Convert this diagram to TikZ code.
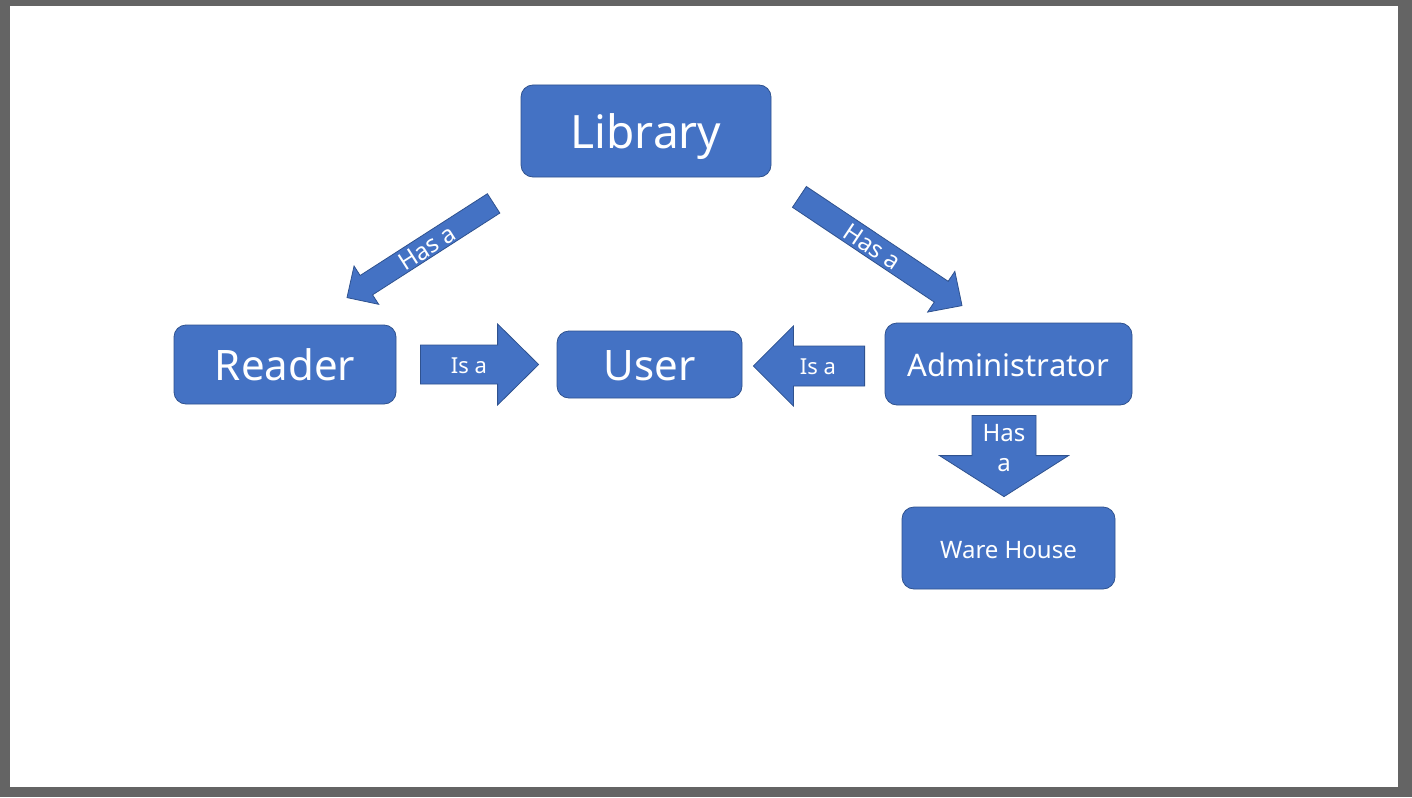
\documentclass[tikz,border=0pt]{standalone}
\usepackage{fontspec}
\setmainfont{Noto Sans}
\usetikzlibrary{calc}

\definecolor{officeblue}{HTML}{4472C4}
\definecolor{officeedge}{HTML}{2F528F}
\definecolor{framegray}{HTML}{646464}

\tikzset{
  entity/.style={draw=officeedge, fill=officeblue, rounded corners=12pt, text=white,
    inner sep=0pt, line width=0.8pt, font=\fontsize{#1}{#1}\selectfont,
    text height=0.714*#1pt+3pt, text depth=0pt},
  arrowbody/.style={draw=officeedge, fill=officeblue, line width=0.8pt},
  arrowtext/.style={text=white, inner sep=0pt, font=\fontsize{#1}{#1}\selectfont,
    text height=0.714*#1pt+2pt, text depth=0pt}
}

% block arrow: tail, tip, shaft half width, head half width, head length, label, label options
\newcommand{\blockarrow}[7]{%
  \coordinate (hb) at ($(#2)!#5!(#1)$);
  \draw[arrowbody] ($(#1)!#3!90:(#2)$) -- ($(hb)!#3!-90:(#1)$) -- ($(hb)!#4!-90:(#1)$)
    -- (#2) -- ($(hb)!#4!90:(#1)$) -- ($(hb)!#3!90:(#1)$) -- ($(#1)!#3!-90:(#2)$) -- cycle;
  \path (#1) -- (#2) node[#7] {#6};
}

\begin{document}
\begin{tikzpicture}[x=1pt, y=-1pt]
\fill[framegray] (0,0) rectangle (1412,797);
\fill[white] (10,6) rectangle (1398,787);

% the classes
\node[entity=46, minimum width=250pt, minimum height=92pt] (library) at (646,131) {Library};
\node[entity=42, minimum width=222pt, minimum height=79pt] (reader) at (285,364.5) {Reader};
\node[entity=42, minimum width=185pt, minimum height=67pt] (user) at (649.5,364.5) {User};
\node[entity=31, minimum width=247pt, minimum height=82pt] (admin) at (1008.5,364) {Administrator};
\node[entity=24, minimum width=213pt, minimum height=82pt] (warehouse) at (1008.5,548) {Ware House};

% ends of the relations
\coordinate (hasreader tail) at ($(library.south west)+(-27,26)$);
\coordinate (hasreader tip) at ($(reader.north)+(62,-27)$);
\coordinate (hasadmin tail) at ($(library.south east)+(28,19.5)$);
\coordinate (hasadmin tip) at ($(admin.north)+(-46.5,-17)$);
\coordinate (readeruser tail) at ($(reader.east)+(24,0)$);
\coordinate (readeruser tip) at ($(user.west)+(-18,0)$);
\coordinate (adminuser tail) at ($(admin.west)+(-20,2)$);
\coordinate (adminuser tip) at ($(user.east)+(11,1.5)$);
\coordinate (haswh tail) at ($(admin.south)+(-4.5,10)$);
\coordinate (haswh tip) at ($(warehouse.north)+(-4.5,-10)$);

% the relations
\blockarrow{hasreader tail}{hasreader tip}{11.5pt}{22.75pt}{23pt}{Has a}{arrowtext=24, pos=.46, sloped}
\blockarrow{hasadmin tail}{hasadmin tip}{12.5pt}{24.5pt}{25pt}{Has a}{arrowtext=24, pos=.45, sloped}
\blockarrow{readeruser tail}{readeruser tip}{19.5pt}{40.5pt}{41pt}{Is a}{arrowtext=22, pos=.41}
\blockarrow{adminuser tail}{adminuser tip}{20pt}{40pt}{40pt}{Is a}{arrowtext=22, pos=.42}
\blockarrow{haswh tail}{haswh tip}{32pt}{64.5pt}{41pt}{Has\\a}{text=white, inner sep=0pt, align=center, font=\fontsize{24}{30}\selectfont, pos=.40}

\end{tikzpicture}
\end{document}
